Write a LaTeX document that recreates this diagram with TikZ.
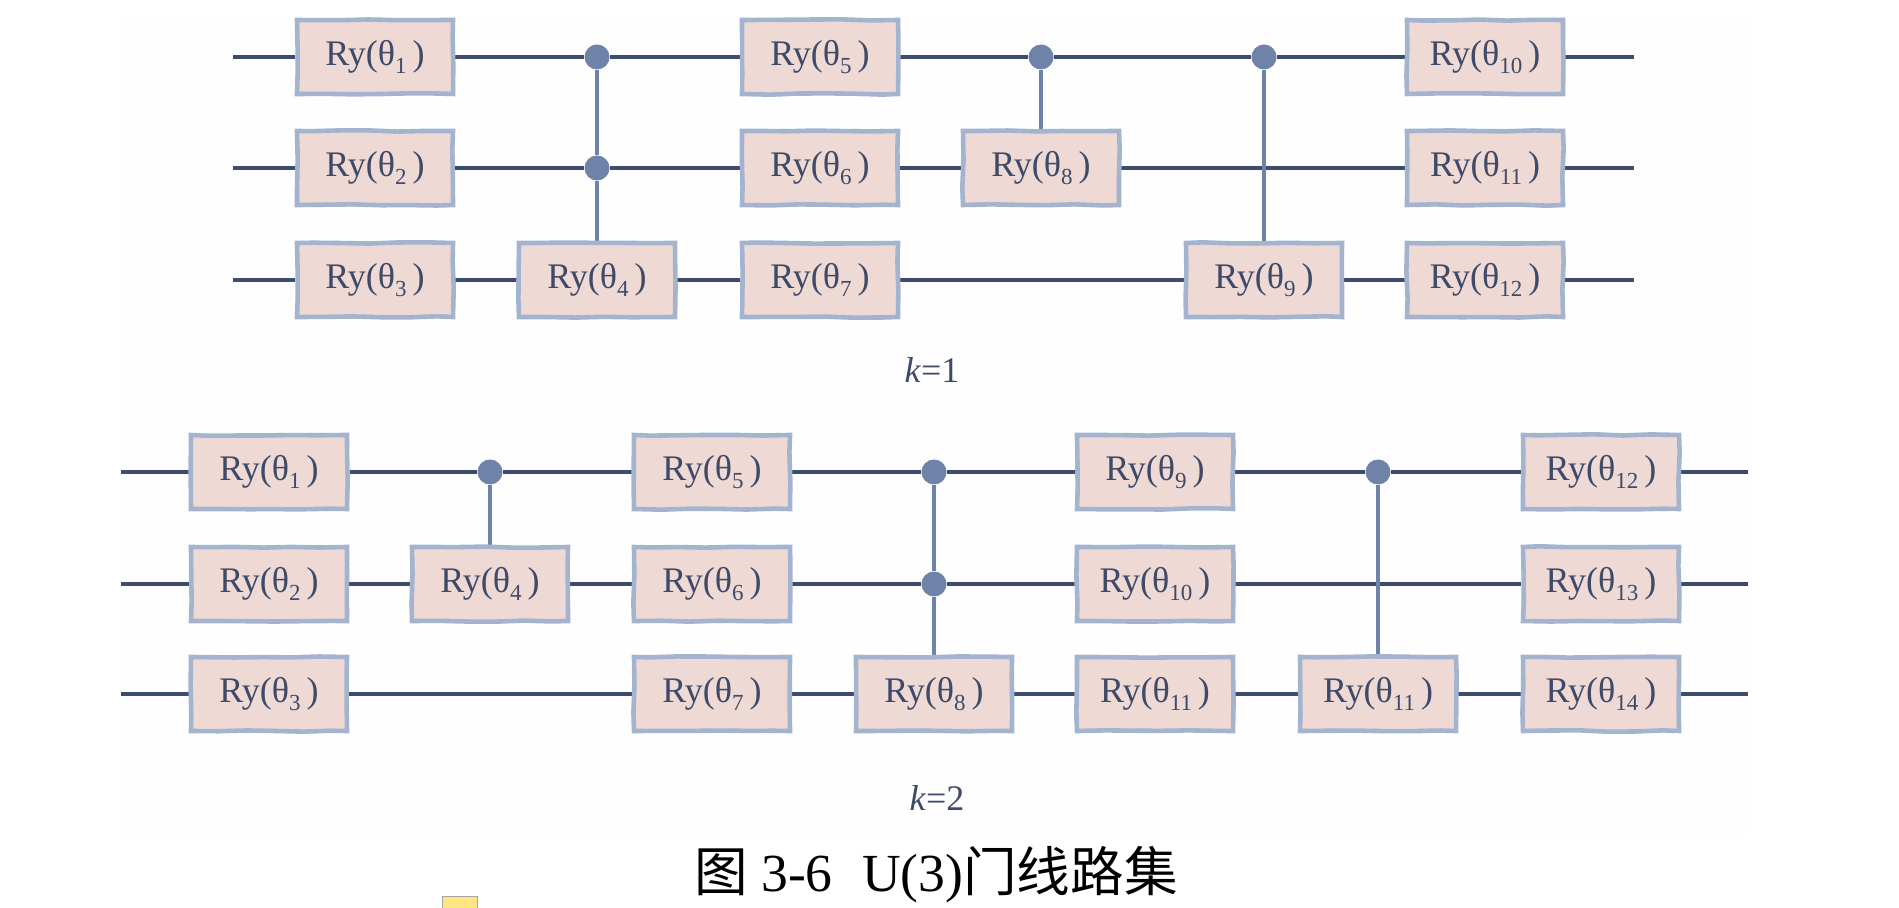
\documentclass[tikz,border=0pt]{standalone}
\usepackage{fontspec}
\setmainfont{Liberation Serif}
\newfontfamily\cjk{Noto Sans CJK SC}
\usetikzlibrary{backgrounds,decorations.pathmorphing}
\definecolor{wirec}{HTML}{3D4C6C}
\definecolor{ctrlc}{HTML}{6F83A9}
\definecolor{gatefill}{HTML}{EED9D4}
\definecolor{gateline}{HTML}{A4B4CF}
\definecolor{textc}{HTML}{3E4A68}
\definecolor{panelc}{HTML}{FEFEFE}
\definecolor{notec}{HTML}{FFE680}
\newcommand\Ry[1]{\raisebox{-1.6pt}{Ry(θ\raisebox{-0.22em}{\fontsize{11.5}{12}\selectfont #1}\,)}}
\tikzset{
  x=0.5pt,y=-0.5pt,
  gate/.style={draw=gateline,fill=gatefill,line width=2.3pt,minimum width=78pt,minimum height=37pt,inner sep=0pt,
    text=textc,font=\fontsize{18}{20}\selectfont,decorate,decoration={random steps,segment length=14pt,amplitude=0.35pt}},
  ctrl/.style={circle,fill=ctrlc,minimum size=12.5pt,inner sep=0pt},
  wire/.style={draw=wirec,line width=1.8pt},
  ctrlwire/.style={draw=ctrlc,line width=1.9pt},
  klabel/.style={text=textc,font=\fontsize{18}{20}\selectfont,inner sep=0pt},
}
\begin{document}
\begin{tikzpicture}
\pgfmathsetseed{7}
\useasboundingbox (0,0) rectangle (1899,908);
% k=1
\coordinate (as1) at (233,57); \coordinate (as2) at (233,168); \coordinate (as3) at (233,280);
\coordinate (ae1) at (1634,57); \coordinate (ae2) at (1634,168); \coordinate (ae3) at (1634,280);
\node[gate] (a1) at (375,57) {\Ry{1}};
\node[gate] (a2) at (375,168) {\Ry{2}};
\node[gate] (a3) at (375,280) {\Ry{3}};
\node[gate] (a4) at (597,280) {\Ry{4}};
\node[gate] (a5) at (820,57) {\Ry{5}};
\node[gate] (a6) at (820,168) {\Ry{6}};
\node[gate] (a7) at (820,280) {\Ry{7}};
\node[gate] (a8) at (1041,168) {\Ry{8}};
\node[gate] (a9) at (1264,280) {\Ry{9}};
\node[gate] (a10) at (1485,57) {\Ry{10}};
\node[gate] (a11) at (1485,168) {\Ry{11}};
\node[gate] (a12) at (1485,280) {\Ry{12}};
\node[ctrl] (ac1) at (597,57) {};
\node[ctrl] (ac2) at (597,168) {};
\node[ctrl] (ac3) at (1041,57) {};
\node[ctrl] (ac4) at (1264,57) {};
% k=2
\coordinate (bs1) at (121,472); \coordinate (bs2) at (121,584); \coordinate (bs3) at (121,694);
\coordinate (be1) at (1748,472); \coordinate (be2) at (1748,584); \coordinate (be3) at (1748,694);
\node[gate] (b1) at (269,472) {\Ry{1}};
\node[gate] (b2) at (269,584) {\Ry{2}};
\node[gate] (b3) at (269,694) {\Ry{3}};
\node[gate] (b4) at (490,584) {\Ry{4}};
\node[gate] (b5) at (712,472) {\Ry{5}};
\node[gate] (b6) at (712,584) {\Ry{6}};
\node[gate] (b7) at (712,694) {\Ry{7}};
\node[gate] (b8) at (934,694) {\Ry{8}};
\node[gate] (b9) at (1155,472) {\Ry{9}};
\node[gate] (b10) at (1155,584) {\Ry{10}};
\node[gate] (b11) at (1155,694) {\Ry{11}};
\node[gate] (b11x) at (1378,694) {\Ry{11}};
\node[gate] (b12) at (1601,472) {\Ry{12}};
\node[gate] (b13) at (1601,584) {\Ry{13}};
\node[gate] (b14) at (1601,694) {\Ry{14}};
\node[ctrl] (bc1) at (490,472) {};
\node[ctrl] (bc2) at (934,472) {};
\node[ctrl] (bc3) at (934,584) {};
\node[ctrl] (bc4) at (1378,472) {};
\node[klabel] (k1) at (932,370) {\textit{k}=1};
\node[klabel] (k2) at (937,798) {\textit{k}=2};
\node[inner sep=0pt,font=\fontsize{26.8}{30}\selectfont] (cap) at (936,875) {{\cjk 图} 3-6\hspace{0.55em}U(3){\cjk 门线路集}};
\fill[notec,draw=gray!70,line width=0.5pt] (442,896) rectangle (477,912);
\begin{scope}[on background layer]
\fill[white] (0,0) rectangle (1899,908);
\fill[panelc] (120,15) rectangle (1748,836);
\path[wire] (as1)--(a1) (a1)--(ac1) (ac1)--(a5) (a5)--(ac3) (ac3)--(ac4) (ac4)--(a10) (a10)--(ae1);
\path[wire] (as2)--(a2) (a2)--(ac2) (ac2)--(a6) (a6)--(a8) (a8)--(a11) (a11)--(ae2);
\path[wire] (as3)--(a3) (a3)--(a4) (a4)--(a7) (a7)--(a9) (a9)--(a12) (a12)--(ae3);
\path[ctrlwire] (ac1)--(ac2) (ac2)--(a4) (ac3)--(a8) (ac4)--(a9);
\path[wire] (bs1)--(b1) (b1)--(bc1) (bc1)--(b5) (b5)--(bc2) (bc2)--(b9) (b9)--(bc4) (bc4)--(b12) (b12)--(be1);
\path[wire] (bs2)--(b2) (b2)--(b4) (b4)--(b6) (b6)--(bc3) (bc3)--(b10) (b10)--(b13) (b13)--(be2);
\path[wire] (bs3)--(b3) (b3)--(b7) (b7)--(b8) (b8)--(b11) (b11)--(b11x) (b11x)--(b14) (b14)--(be3);
\path[ctrlwire] (bc1)--(b4) (bc2)--(bc3) (bc3)--(b8) (bc4)--(b11x);
\end{scope}
\end{tikzpicture}
\end{document}
